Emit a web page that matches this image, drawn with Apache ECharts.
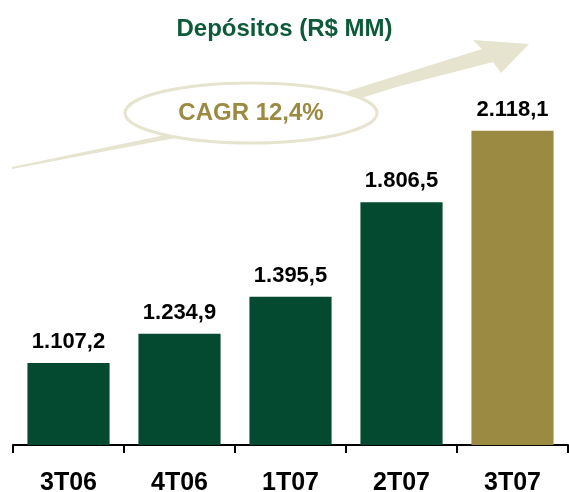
<!DOCTYPE html>
<html>
<head>
<meta charset="utf-8">
<script src="https://cdn.jsdelivr.net/npm/echarts@6/dist/echarts.min.js"></script>
<style>
  html, body { margin: 0; padding: 0; background: #fff; }
  #chart { width: 569px; height: 492px; }
</style>
</head>
<body>
<div id="chart"></div>
<script>
// dados
var categories = ['3T06', '4T06', '1T07', '2T07', '3T07'];
var depositos = [1107.2, 1234.9, 1395.5, 1806.5, 2118.1];
var titulo = 'Depósitos (R$ MM)';
var cagrTexto = 'CAGR 12,4%';

var verde = '#034a31';
var dourado = '#9b8a42';
var bege = '#e6e4cf';
var fonte = '"Liberation Sans", Arial, sans-serif';

// formato brasileiro: 1.107,2
var fmt = function(v) {
  var p = v.toFixed(1).split('.');
  return p[0].replace(/\B(?=(\d{3})+(?!\d))/g, '.') + ',' + p[1];
};

var chart = echarts.init(document.getElementById('chart'));

var option = {
  animation: false,
  title: {
    text: titulo,
    left: 'center',
    top: 12,
    textStyle: { color: '#0d5a3b', fontSize: 24, fontWeight: 'bold', fontFamily: fonte }
  },
  grid: { left: 13, right: 1, top: 10, bottom: 47, outerBoundsMode: 'none', containLabel: false },
  xAxis: {
    type: 'category',
    data: categories,
    axisLine: { show: true, lineStyle: { color: '#000', width: 2 } },
    axisTick: { show: true, length: 8, lineStyle: { color: '#000', width: 2 } },
    axisLabel: { color: '#000', fontSize: 25, fontWeight: 'bold', fontFamily: fonte, margin: 26 }
  },
  yAxis: {
    type: 'value',
    min: 750,
    max: 2644,
    show: false,
    splitLine: { show: false }
  },
  // seta + elipse do CAGR (decoração)
  graphic: [
    {
      type: 'polygon',
      z: 0,
      shape: {
        points: [
          [12, 167], [170, 134], [345, 92], [482, 49], [473, 40], [529, 44],
          [501, 73], [493, 62], [400, 86], [345, 103], [170, 139], [12, 169]
        ]
      },
      style: { fill: bege }
    },
    {
      type: 'ellipse',
      z: 1,
      shape: { cx: 251, cy: 113, rx: 126, ry: 30 },
      style: { fill: '#fff', stroke: bege, lineWidth: 3 }
    },
    {
      type: 'text',
      z: 2,
      x: 251,
      y: 113,
      style: {
        text: cagrTexto,
        fill: dourado,
        font: 'bold 24px ' + fonte,
        align: 'center',
        verticalAlign: 'middle'
      }
    }
  ],
  series: [{
    type: 'bar',
    data: depositos,
    barCategoryGap: '26%',
    itemStyle: {
      color: function(p) {
        return p.dataIndex === depositos.length - 1 ? dourado : verde;
      }
    },
    label: {
      show: true,
      position: 'top',
      distance: 10,
      color: '#000',
      fontSize: 22,
      fontWeight: 'bold',
      fontFamily: fonte,
      formatter: function(p) { return fmt(p.value); }
    }
  }]
};

chart.setOption(option);
</script>
</body>
</html>
